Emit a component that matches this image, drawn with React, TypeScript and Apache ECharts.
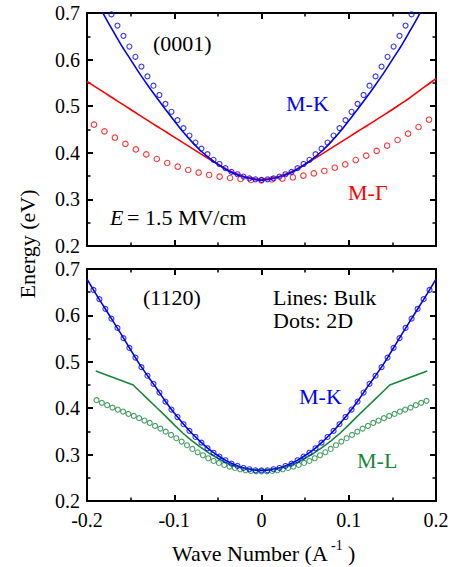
import React, { useEffect, useRef } from "react";
import * as echarts from "echarts";

// ---------- data ----------
const xTicks = [-0.2, -0.1, 0, 0.1, 0.2];
const yTicks = [0.2, 0.3, 0.4, 0.5, 0.6, 0.7];

const kLine = [
  -0.2, -0.19, -0.18, -0.17, -0.16, -0.15, -0.14, -0.13, -0.12, -0.11, -0.1,
  -0.09, -0.08, -0.07, -0.06, -0.05, -0.04, -0.03, -0.02, -0.01, 0,
  0.01, 0.02, 0.03, 0.04, 0.05, 0.06, 0.07, 0.08, 0.09, 0.1,
  0.11, 0.12, 0.13, 0.14, 0.15, 0.16, 0.17, 0.18, 0.19, 0.2,
];

// (0001) panel — bulk lines
const topMKLine = [
  0.765, 0.729, 0.694, 0.661, 0.629, 0.6, 0.571, 0.544, 0.518, 0.493, 0.469,
  0.445, 0.424, 0.405, 0.389, 0.375, 0.363, 0.354, 0.348, 0.3435, 0.341,
  0.3435, 0.348, 0.354, 0.363, 0.375, 0.389, 0.405, 0.424, 0.445, 0.469,
  0.493, 0.518, 0.544, 0.571, 0.6, 0.629, 0.661, 0.694, 0.729, 0.765,
];
const topMGLine = [
  0.553, 0.541, 0.529, 0.517, 0.505, 0.493, 0.481, 0.469, 0.457, 0.4456, 0.4336,
  0.4217, 0.4099, 0.3982, 0.3867, 0.3755, 0.365, 0.356, 0.349, 0.3445, 0.343,
  0.3445, 0.349, 0.356, 0.365, 0.3755, 0.3867, 0.3982, 0.4099, 0.4217, 0.4336,
  0.4456, 0.457, 0.469, 0.481, 0.493, 0.5055, 0.518, 0.532, 0.5455, 0.559,
];

// (0001) panel — 2D dots
const kTopMKDots = [
  -0.172, -0.1651, -0.1582, -0.1514, -0.1445, -0.1376, -0.1307, -0.1238, -0.117,
  -0.1101, -0.1032, -0.0963, -0.0894, -0.0826, -0.0757, -0.0688, -0.0619, -0.055,
  -0.0482, -0.0413, -0.0344, -0.0275, -0.0206, -0.0138, -0.0069, 0,
  0.0069, 0.0138, 0.0206, 0.0275, 0.0344, 0.0413, 0.0482, 0.055, 0.0619, 0.0688,
  0.0757, 0.0826, 0.0894, 0.0963, 0.1032, 0.1101, 0.117, 0.1238, 0.1307, 0.1376,
  0.1445, 0.1514, 0.1582, 0.1651, 0.172,
];
const topMKDots = [
  0.697, 0.673, 0.651, 0.628, 0.606, 0.585, 0.564, 0.544, 0.524, 0.505, 0.488,
  0.47, 0.453, 0.437, 0.422, 0.409, 0.397, 0.385, 0.376, 0.367, 0.359, 0.354,
  0.349, 0.345, 0.343, 0.342,
  0.343, 0.345, 0.349, 0.354, 0.359, 0.367, 0.376, 0.385, 0.397, 0.409, 0.422,
  0.437, 0.453, 0.47, 0.488, 0.505, 0.524, 0.544, 0.564, 0.585, 0.606, 0.628,
  0.651, 0.673, 0.697,
];
const kTopMGDots = [
  -0.192, -0.18, -0.168, -0.156, -0.144, -0.132, -0.12, -0.108, -0.096, -0.084,
  -0.072, -0.06, -0.048, -0.036, -0.024, -0.012, 0,
  0.012, 0.024, 0.036, 0.048, 0.06, 0.072, 0.084, 0.096, 0.108, 0.12, 0.132,
  0.144, 0.156, 0.168, 0.18, 0.192,
];
const topMGDots = [
  0.4603, 0.446, 0.4324, 0.419, 0.4073, 0.3966, 0.3867, 0.3781, 0.3702, 0.3631,
  0.3573, 0.3524, 0.3487, 0.3459, 0.3438, 0.3416, 0.341,
  0.343, 0.3448, 0.3472, 0.351, 0.3558, 0.361, 0.368, 0.375, 0.3845, 0.3938,
  0.404, 0.4152, 0.4275, 0.441, 0.4554, 0.471,
];

// (1120) panel — bulk lines
const botMKLine = [
  0.678, 0.647, 0.617, 0.587, 0.557, 0.526, 0.4955, 0.4685, 0.442, 0.4143, 0.3895,
  0.367, 0.346, 0.328, 0.311, 0.298, 0.2865, 0.2775, 0.271, 0.2675, 0.266,
  0.2675, 0.271, 0.2775, 0.2865, 0.298, 0.311, 0.328, 0.346, 0.367, 0.3895,
  0.4143, 0.442, 0.4685, 0.4955, 0.526, 0.557, 0.587, 0.617, 0.647, 0.678,
];
const kBotMLLine = [
  -0.19, -0.18, -0.17, -0.16, -0.15, -0.147, -0.14, -0.13, -0.12, -0.11, -0.1,
  -0.09, -0.08, -0.07, -0.06, -0.05, -0.04, -0.03, -0.02, -0.01, 0,
  0.01, 0.02, 0.03, 0.04, 0.05, 0.06, 0.07, 0.08, 0.09, 0.1,
  0.11, 0.12, 0.13, 0.14, 0.147, 0.15, 0.16, 0.17, 0.18, 0.19,
];
const botMLLine = [
  0.48, 0.473, 0.466, 0.459, 0.452, 0.45, 0.437, 0.419, 0.401, 0.383, 0.364,
  0.346, 0.33, 0.316, 0.303, 0.292, 0.282, 0.275, 0.27, 0.267, 0.266,
  0.267, 0.27, 0.275, 0.282, 0.292, 0.303, 0.316, 0.33, 0.346, 0.364,
  0.383, 0.401, 0.419, 0.437, 0.45, 0.452, 0.459, 0.466, 0.473, 0.48,
];

// (1120) panel — 2D dots
const kBotMKDots = [
  -0.1926, -0.1858, -0.1789, -0.172, -0.1651, -0.1582, -0.1514, -0.1445, -0.1376,
  -0.1307, -0.1238, -0.117, -0.1101, -0.1032, -0.0963, -0.0894, -0.0826, -0.0757,
  -0.0688, -0.0619, -0.055, -0.0482, -0.0413, -0.0344, -0.0275, -0.0206, -0.0138,
  -0.0069, 0,
  0.0069, 0.0138, 0.0206, 0.0275, 0.0344, 0.0413, 0.0482, 0.055, 0.0619, 0.0688,
  0.0757, 0.0826, 0.0894, 0.0963, 0.1032, 0.1101, 0.117, 0.1238, 0.1307, 0.1376,
  0.1445, 0.1514, 0.1582, 0.1651, 0.172, 0.1789, 0.1858, 0.1926,
];
const botMKDots = [
  0.655, 0.635, 0.614, 0.593, 0.573, 0.551, 0.53, 0.509, 0.4885, 0.47, 0.4525,
  0.4337, 0.4143, 0.397, 0.381, 0.3655, 0.351, 0.338, 0.3258, 0.3137, 0.304,
  0.2957, 0.2878, 0.2805, 0.2755, 0.2712, 0.2684, 0.2662, 0.266,
  0.2662, 0.2684, 0.2712, 0.2755, 0.2805, 0.2878, 0.2957, 0.304, 0.3137, 0.3258,
  0.338, 0.351, 0.3655, 0.381, 0.397, 0.4143, 0.4337, 0.4525, 0.47, 0.4885,
  0.509, 0.53, 0.551, 0.573, 0.593, 0.614, 0.635, 0.655,
];
const kBotMLDots = [
  -0.1891, -0.183, -0.1769, -0.1708, -0.1647, -0.1586, -0.1525, -0.1464, -0.1403,
  -0.1342, -0.1281, -0.122, -0.1159, -0.1098, -0.1037, -0.0976, -0.0915, -0.0854,
  -0.0793, -0.0732, -0.0671, -0.061, -0.0549, -0.0488, -0.0427, -0.0366, -0.0305,
  -0.0244, -0.0183, -0.0122, -0.0061, 0,
  0.0061, 0.0122, 0.0183, 0.0244, 0.0305, 0.0366, 0.0427, 0.0488, 0.0549, 0.061,
  0.0671, 0.0732, 0.0793, 0.0854, 0.0915, 0.0976, 0.1037, 0.1098, 0.1159, 0.122,
  0.1281, 0.1342, 0.1403, 0.1464, 0.1525, 0.1586, 0.1647, 0.1708, 0.1769, 0.183,
  0.1891,
];
const botMLDots = [
  0.4173, 0.4115, 0.4065, 0.4013, 0.397, 0.3927, 0.3877, 0.3834, 0.3785, 0.3733,
  0.3683, 0.3618, 0.356, 0.3495, 0.3424, 0.3353, 0.328, 0.3202, 0.3122, 0.305,
  0.2986, 0.2921, 0.2863, 0.282, 0.2777, 0.274, 0.2712, 0.2684, 0.2662, 0.2647,
  0.264, 0.2637,
  0.264, 0.2647, 0.2662, 0.2684, 0.2712, 0.274, 0.2777, 0.282, 0.2863, 0.2921,
  0.2986, 0.305, 0.3122, 0.3202, 0.328, 0.3353, 0.3424, 0.3495, 0.356, 0.3618,
  0.3683, 0.3733, 0.3785, 0.3834, 0.3877, 0.3927, 0.397, 0.4013, 0.4065, 0.4115,
  0.4158,
];

// ---------- helpers ----------
const BLUE = "#0000ff";
const RED = "#ff0000";
const GREEN = "#17873a";
const FONT = '"Liberation Serif", "Times New Roman", serif';

const zip = (ks: number[], es: number[]) => ks.map((k, i) => [k, es[i]]);

const fmt = (v: number) => (Math.abs(v) < 1e-9 ? "0" : v.toFixed(1));

function makeX(gridIndex: number, position: "top" | "bottom", showLabel: boolean) {
  return {
    type: "value",
    gridIndex,
    position,
    min: xTicks[0],
    max: xTicks[xTicks.length - 1],
    interval: 0.1,
    axisLine: { show: true, onZero: false, lineStyle: { color: "#000", width: 2 } },
    axisTick: { show: true, inside: true, length: 6, lineStyle: { color: "#000", width: 2 } },
    minorTick: { show: true, splitNumber: 2, length: 3.5, lineStyle: { color: "#000", width: 1.5 } },
    splitLine: { show: false },
    axisLabel: {
      show: showLabel,
      formatter: fmt,
      fontFamily: FONT,
      fontSize: 20,
      color: "#000",
      margin: 9,
    },
  };
}
function makeY(gridIndex: number, position: "left" | "right", showLabel: boolean) {
  return {
    type: "value",
    gridIndex,
    position,
    min: yTicks[0],
    max: yTicks[yTicks.length - 1],
    interval: 0.1,
    axisLine: { show: true, onZero: false, lineStyle: { color: "#000", width: 2 } },
    axisTick: { show: true, inside: true, length: 6, lineStyle: { color: "#000", width: 2 } },
    minorTick: { show: true, splitNumber: 2, length: 3.5, lineStyle: { color: "#000", width: 1.5 } },
    splitLine: { show: false },
    axisLabel: {
      show: showLabel,
      formatter: fmt,
      fontFamily: FONT,
      fontSize: 20,
      color: "#000",
      margin: 7,
    },
  };
}

function lineSeries(xi: number, yi: number, data: number[][], color: string, smooth: number) {
  return {
    type: "line",
    xAxisIndex: xi,
    yAxisIndex: yi,
    data,
    showSymbol: false,
    symbol: "none",
    smooth,
    clip: true,
    lineStyle: { color, width: 1.6 },
    z: 2,
  };
}
function dotSeries(xi: number, yi: number, data: number[][], color: string, size: number) {
  return {
    type: "scatter",
    xAxisIndex: xi,
    yAxisIndex: yi,
    data,
    symbol: "circle",
    symbolSize: size,
    itemStyle: { color: "rgba(0,0,0,0)", borderColor: color, borderWidth: 1.1 },
    z: 3,
  };
}

function txt(x: number, y: number, text: string, color: string, size = 22, extra: any = {}) {
  return {
    type: "text",
    x,
    y,
    ...extra,
    style: {
      text,
      fill: color,
      font: `${extra.italic ? "italic " : ""}${size}px ${FONT}`,
      align: extra.center ? "center" : "left",
      textAlign: extra.center ? "center" : "left",
      verticalAlign: "middle",
      textVerticalAlign: "middle",
    },
  };
}

export default function App() {
  const ref = useRef<HTMLDivElement>(null);
  useEffect(() => {
    if (!ref.current) return;
    const chart = echarts.init(ref.current, undefined, { renderer: "svg" });
    const option: any = {
      animation: false,
      backgroundColor: "#fff",
      grid: [
        { left: 87, top: 13, width: 349, height: 233 },
        { left: 87, top: 269, width: 349, height: 232 },
      ],
      xAxis: [
        makeX(0, "bottom", false),
        makeX(0, "top", false),
        makeX(1, "bottom", true),
        makeX(1, "top", false),
      ],
      yAxis: [
        makeY(0, "left", true),
        makeY(0, "right", false),
        makeY(1, "left", true),
        makeY(1, "right", false),
      ],
      series: [
        lineSeries(0, 0, zip(kLine, topMGLine), RED, 0.3),
        lineSeries(0, 0, zip(kLine, topMKLine), BLUE, 0.3),
        dotSeries(0, 0, zip(kTopMGDots, topMGDots), RED, 5.5),
        dotSeries(0, 0, zip(kTopMKDots, topMKDots), BLUE, 5),
        lineSeries(2, 2, zip(kBotMLLine, botMLLine), GREEN, 0),
        lineSeries(2, 2, zip(kLine, botMKLine), BLUE, 0.3),
        dotSeries(2, 2, zip(kBotMLDots, botMLDots), GREEN, 5),
        dotSeries(2, 2, zip(kBotMKDots, botMKDots), BLUE, 5),
      ],
      graphic: [
        txt(153, 43, "(0001)", "#000"),
        txt(286, 103, "M-K", BLUE),
        txt(348, 192, "M-Γ", RED),
        txt(110, 217, "E", "#000", 22, { italic: true }),
        txt(127, 217, "= 1.5 MV/cm", "#000"),
        txt(143, 297, "(1120)", "#000"),
        txt(273, 297, "Lines: Bulk", "#000"),
        txt(273, 320, "Dots: 2D", "#000"),
        txt(299, 396, "M-K", BLUE),
        txt(357, 460, "M-L", GREEN),
        txt(172, 553, "Wave Number (A", "#000"),
        txt(331, 545, "-1", "#000", 14),
        txt(348, 553, ")", "#000"),
        txt(27, 244, "Energy (eV)", "#000", 22, { center: true, rotation: Math.PI / 2 }),
      ],
    };
    chart.setOption(option);
    return () => chart.dispose();
  }, []);
  return (
    <div
      ref={ref}
      style={{ position: "absolute", left: 0, top: 0, width: 455, height: 567, background: "#fff" }}
    />
  );
}
